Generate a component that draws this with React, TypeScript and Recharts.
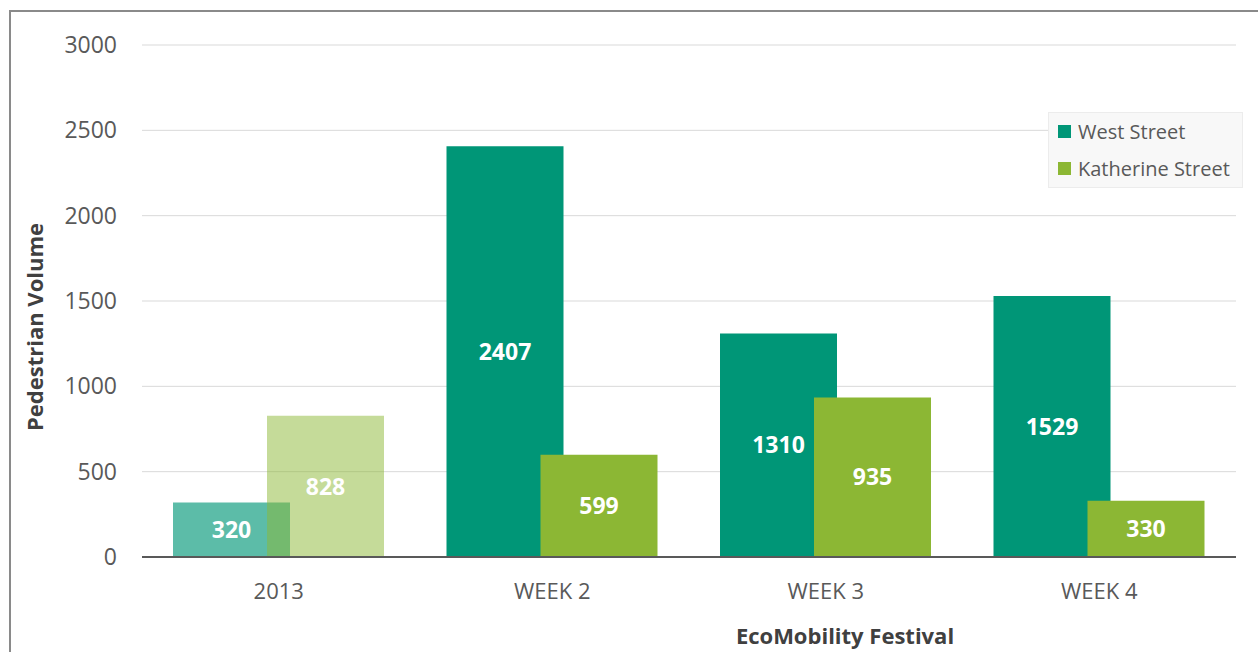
import React from 'react';
import { BarChart, Bar, XAxis, YAxis, CartesianGrid, Legend, LabelList, Cell, Label } from 'recharts';

const categories = ['2013', 'WEEK 2', 'WEEK 3', 'WEEK 4'];
const westStreet = [320, 2407, 1310, 1529];
const katherineStreet = [828, 599, 935, 330];
const yTicks = [0, 500, 1000, 1500, 2000, 2500, 3000];
const seriesNames = ['West Street', 'Katherine Street'];

const WEST = '#009677';
const KATH = '#8cb734';
const FONT = '"Open Sans", sans-serif';

const data = categories.map((c, i) => ({ name: c, west: westStreet[i], kath: katherineStreet[i] }));

const LegendBox = () => (
  <div
    style={{
      background: '#f8f8f8',
      border: '1px solid #ececec',
      padding: '0px 4px 0px 9px',
      fontFamily: FONT,
      fontSize: 20,
      color: '#595959',
      lineHeight: '37px',
      width: 180,
    }}
  >
    {[WEST, KATH].map((col, i) => (
      <div key={i} style={{ display: 'flex', alignItems: 'center' }}>
        <span style={{ display: 'inline-block', width: 13, height: 13, background: col, marginRight: 7 }} />
        <span>{seriesNames[i]}</span>
      </div>
    ))}
  </div>
);

export default function App() {
  return (
    <div style={{ position: 'fixed', left: 0, top: 0, width: 1258, height: 652, background: '#fff', overflow: 'hidden' }}>
      <div
        style={{
          position: 'absolute',
          left: 9,
          top: 10,
          width: 1258,
          height: 660,
          borderLeft: '2px solid #8a8a8a',
          borderTop: '2px solid #8a8a8a',
        }}
      />
      <div style={{ position: 'absolute', left: 0, top: 0 }}>
        <BarChart
          width={1258}
          height={652}
          data={data}
          margin={{ top: 45, right: 22, left: 0, bottom: 0 }}
          barSize={117}
          barGap={-23}
          barCategoryGap={0}
        >
          <CartesianGrid vertical={false} stroke="#d9d9d9" strokeWidth={1} />
          <XAxis
            dataKey="name"
            height={95}
            tickLine={false}
            axisLine={{ stroke: '#595959', strokeWidth: 2 }}
            tick={{ fill: '#595959', fontSize: 22, fontFamily: FONT }}
            tickMargin={20}
            interval={0}
          >
            <Label
              value="EcoMobility Festival"
              position="insideBottom"
              offset={8}
              dx={156}
              style={{ fill: '#404040', fontSize: 22, fontWeight: 700, fontFamily: FONT }}
            />
          </XAxis>
          <YAxis
            width={142}
            domain={[0, 3000]}
            ticks={yTicks}
            tickLine={false}
            axisLine={false}
            tickMargin={19}
            tick={{ fill: '#595959', fontSize: 23, fontFamily: FONT }}
            interval={0}
          >
            <Label
              value="Pedestrian Volume"
              angle={-90}
              position="insideLeft"
              offset={35}
              dy={26}
              style={{ fill: '#404040', fontSize: 22, fontWeight: 700, fontFamily: FONT, textAnchor: 'middle' }}
            />
          </YAxis>
          <Legend
            layout="vertical"
            verticalAlign="middle"
            align="center"
            content={() => <LegendBox />}
            wrapperStyle={{ position: 'absolute', left: 1048, top: 112, width: 200 }}
          />
          <Bar dataKey="west" name={seriesNames[0]} fill={WEST} isAnimationActive={false}>
            {data.map((d, i) => (
              <Cell key={i} fill={WEST} fillOpacity={i === 0 ? 0.64 : 1} />
            ))}
            <LabelList dataKey="west" position="center" fill="#ffffff" fontSize={23} fontWeight={700} fontFamily={FONT} />
          </Bar>
          <Bar dataKey="kath" name={seriesNames[1]} fill={KATH} isAnimationActive={false}>
            {data.map((d, i) => (
              <Cell key={i} fill={KATH} fillOpacity={i === 0 ? 0.5 : 1} />
            ))}
            <LabelList dataKey="kath" position="center" fill="#ffffff" fontSize={23} fontWeight={700} fontFamily={FONT} />
          </Bar>
        </BarChart>
      </div>
    </div>
  );
}
